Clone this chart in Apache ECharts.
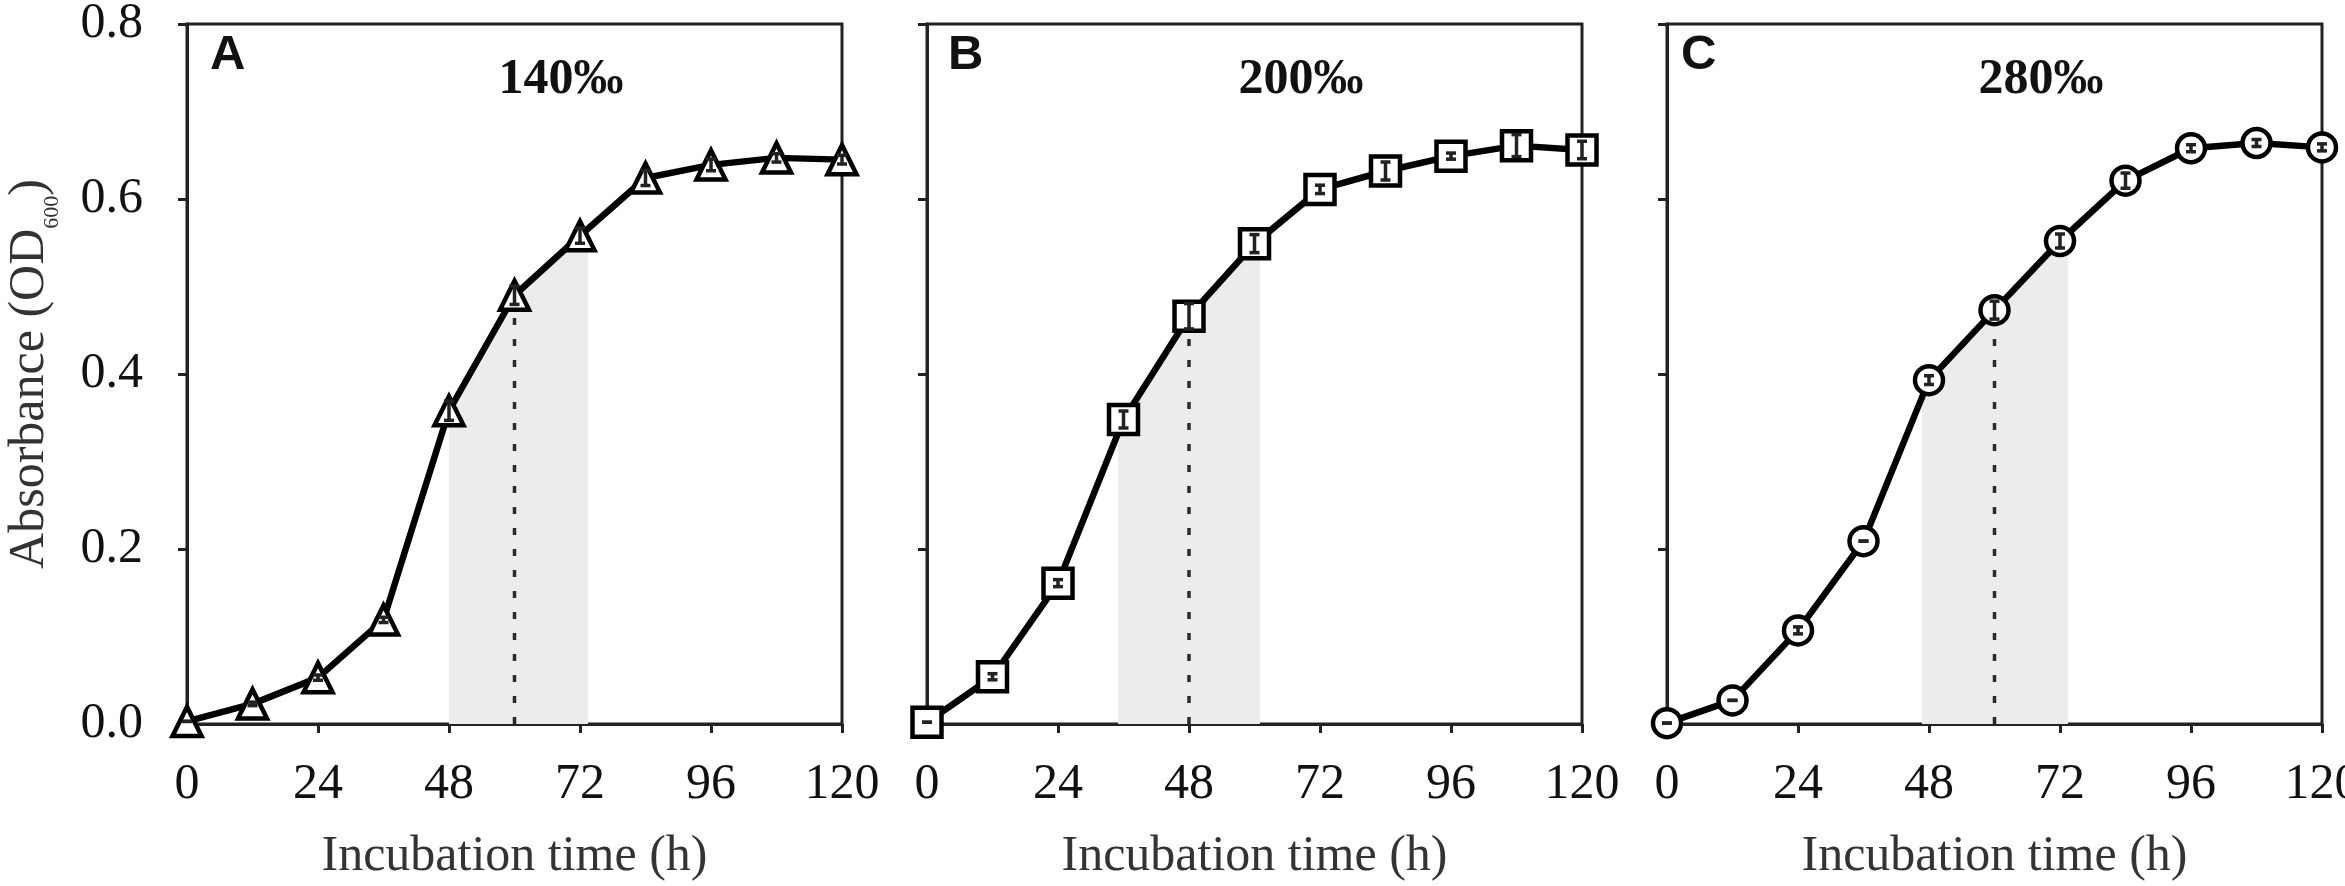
<!DOCTYPE html>
<html>
<head>
<meta charset="utf-8">
<script src="https://cdn.jsdelivr.net/npm/echarts@6.0.0/dist/echarts.min.js"></script>
<style>
  html, body { margin: 0; padding: 0; background: #fff; }
  #growth { width: 2345px; height: 886px; }
</style>
</head>
<body>
<div id="growth"></div>
<script>
// sampling times (h)
var hours = [0, 12, 24, 36, 48, 60, 72, 84, 96, 108, 120];

// OD600 means and SD for the three salinities
var od140 = [0.003, 0.023, 0.053, 0.119, 0.358, 0.490, 0.558, 0.624, 0.639, 0.647, 0.645];
var err140 = [0, 0.002, 0.003, 0.003, 0.011, 0.0105, 0.0086, 0.0086, 0.0067, 0.0048, 0.005];
var od200 = [0.002, 0.054, 0.161, 0.348, 0.466, 0.549, 0.611, 0.632, 0.649, 0.661, 0.656];
var err200 = [0, 0.0035, 0.004, 0.0097, 0.0145, 0.0103, 0.0048, 0.0103, 0.0035, 0.0126, 0.01];
var od280 = [0.001, 0.027, 0.107, 0.209, 0.393, 0.473, 0.552, 0.621, 0.658, 0.664, 0.659];
var err280 = [0, 0, 0.004, 0, 0.005, 0.0103, 0.008, 0.0087, 0.004, 0.004, 0.004];

// exponential phase window (h) and the dotted mid time
var shade140 = [48, 73.5];
var shade200 = [35, 61];
var shade280 = [46.7, 73.5];
var mid140 = 60;
var mid200 = 48;
var mid280 = 60;

var panelLetters = ['A', 'B', 'C'];
var salinityLabels = ['140‰', '200‰', '280‰'];

var panels = [
    {od: od140, err: err140, shade: shade140, mid: mid140, symbol: 'triangle', size: 29},
    {od: od200, err: err200, shade: shade200, mid: mid200, symbol: 'rect', size: 29},
    {od: od280, err: err280, shade: shade280, mid: mid280, symbol: 'circle', size: 28}
];

var serif = '"Liberation Serif", "Times New Roman", serif';
var sans = '"Liberation Sans", Arial, sans-serif';
var ink = '#222';

var gridLeft = [187, 927, 1667];
var gridW = 655, gridTop = 24, gridH = 700;

var myChart = echarts.init(document.getElementById('growth'));

function pairs(ys) {
    return hours.map(function (h, i) { return [h, ys[i]]; });
}

function renderErr(params, api) {
    var x = api.value(0), y = api.value(1), e = api.value(2);
    var top = api.coord([x, y + e]);
    var bot = api.coord([x, y - e]);
    var w = 5;
    var st = {stroke: ink, lineWidth: 3.5};
    return {
        type: 'group',
        children: [
            {type: 'line', shape: {x1: top[0], y1: top[1], x2: bot[0], y2: bot[1]}, style: st},
            {type: 'line', shape: {x1: top[0] - w, y1: top[1], x2: top[0] + w, y2: top[1]}, style: st},
            {type: 'line', shape: {x1: bot[0] - w, y1: bot[1], x2: bot[0] + w, y2: bot[1]}, style: st}
        ]
    };
}

// dotted drop line from the curve to the x axis
function renderDrop(params, api) {
    var a = api.coord([api.value(0), 0]);
    var b = api.coord([api.value(0), api.value(1)]);
    return {
        type: 'line',
        shape: {x1: a[0], y1: a[1], x2: b[0], y2: b[1]},
        style: {stroke: '#2a2a2a', lineWidth: 3.5, lineDash: [7, 14]}
    };
}

var grids = [], xAxes = [], yAxes = [], series = [], visualMaps = [], graphics = [];

panels.forEach(function (p, k) {
    grids.push({
        left: gridLeft[k], top: gridTop, width: gridW, height: gridH,
        show: true, borderColor: ink, borderWidth: 3, backgroundColor: '#fff',
        containLabel: false, outerBoundsMode: 'none'
    });
    xAxes.push({
        gridIndex: k, type: 'value', min: 0, max: 120, interval: 24,
        axisLine: {show: true, onZero: false, lineStyle: {color: ink, width: 3}},
        axisTick: {show: true, inside: false, length: 9, lineStyle: {color: ink, width: 3}},
        axisLabel: {show: true, margin: 36, fontFamily: serif, fontSize: 50, color: '#111'},
        splitLine: {show: false},
        name: 'Incubation time (h)', nameLocation: 'middle', nameGap: 108, nameMoveOverlap: false,
        nameTextStyle: {fontFamily: serif, fontSize: 50, color: '#333'}
    });
    var ya = {
        gridIndex: k, type: 'value', min: 0, max: 0.8, interval: 0.2,
        axisLine: {show: true, onZero: false, lineStyle: {color: ink, width: 3}},
        axisTick: {show: true, inside: false, length: 9, lineStyle: {color: ink, width: 3}},
        axisLabel: {show: k === 0, margin: 44, fontFamily: serif, fontSize: 50, color: '#111',
            formatter: function (v) { return v.toFixed(1); }},
        splitLine: {show: false}
    };
    if (k === 0) {
        ya.name = '{m|Absorbance (OD}{s|600}{m|)}';
        ya.nameLocation = 'middle';
        ya.nameGap = 124;
        ya.nameMoveOverlap = false;
        ya.nameTextStyle = {
            fontFamily: serif, fontSize: 50, color: '#333',
            rich: {
                m: {fontFamily: serif, fontSize: 50, color: '#333', verticalAlign: 'top'},
                s: {fontFamily: serif, fontSize: 22, color: '#333', verticalAlign: 'bottom', padding: [36, 0, 0, 0]}
            }
        };
    }
    yAxes.push(ya);

    var midVal = p.od[hours.indexOf(p.mid)];

    // shaded exponential window under the curve
    series.push({
        type: 'line', xAxisIndex: k, yAxisIndex: k, z: 1, silent: true,
        data: pairs(p.od), showSymbol: false, symbol: 'none',
        lineStyle: {width: 0, opacity: 0},
        areaStyle: {opacity: 1}
    });
    visualMaps.push({
        type: 'piecewise', show: false, dimension: 0, seriesIndex: series.length - 1,
        pieces: [{gte: p.shade[0], lte: p.shade[1], color: '#ececec'}],
        outOfRange: {color: 'rgba(255,255,255,0)'}
    });

    series.push({
        type: 'custom', xAxisIndex: k, yAxisIndex: k, z: 3, silent: true,
        renderItem: renderDrop, encode: {x: 0, y: 1},
        data: [[p.mid, midVal]]
    });

    // growth curve
    series.push({
        type: 'line', xAxisIndex: k, yAxisIndex: k, z: 10, clip: false,
        data: pairs(p.od), symbol: p.symbol, symbolSize: p.size, showAllSymbol: true,
        lineStyle: {color: '#000', width: 6.5},
        itemStyle: {color: '#fff', borderColor: '#000', borderWidth: 4.5}
    });

    // SD bars inside the markers
    series.push({
        type: 'custom', xAxisIndex: k, yAxisIndex: k, z: 12, silent: true,
        renderItem: renderErr, encode: {x: 0, y: 1},
        data: hours.map(function (h, i) { return [h, p.od[i], p.err[i]]; })
    });

    graphics.push({
        type: 'text', x: [210, 948, 1681][k], y: 55, silent: true,
        style: {text: panelLetters[k], font: 'bold 49px ' + sans, fill: '#111',
            textAlign: 'left', textVerticalAlign: 'middle'}
    });
    graphics.push({
        type: 'text', x: gridLeft[k] + 374, y: 80, silent: true,
        style: {text: salinityLabels[k], font: 'bold 50px ' + serif, fill: '#111',
            textAlign: 'center', textVerticalAlign: 'middle'}
    });
});

var option = {
    animation: false,
    backgroundColor: '#fff',
    grid: grids,
    xAxis: xAxes,
    yAxis: yAxes,
    visualMap: visualMaps,
    series: series,
    graphic: graphics
};

myChart.setOption(option);

window.onresize = function () {
    myChart.resize();
};
</script>
</body>
</html>
